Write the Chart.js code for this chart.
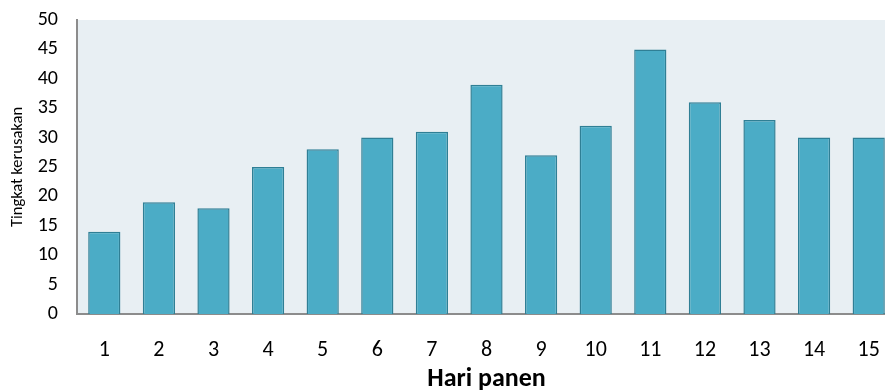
<!DOCTYPE html>
<html lang="id">
<head>
    <meta charset="UTF-8">
    <title>Tingkat kerusakan per hari panen</title>
    <script src="https://cdn.jsdelivr.net/npm/chart.js"></script>
    <style>
        html, body {
            margin: 0;
            padding: 0;
            background: #ffffff;
            overflow: hidden;
        }
        #wrap {
            width: 896px;
            height: 392px;
        }
    </style>
</head>
<body>
    <div id="wrap">
        <canvas id="damageChart" width="896" height="392"></canvas>
    </div>

    <script>
        const days = ['1', '2', '3', '4', '5', '6', '7', '8', '9', '10', '11', '12', '13', '14', '15'];
        const damageLevel = [14, 19, 18, 25, 28, 30, 31, 39, 27, 32, 45, 36, 33, 30, 30];
        const yTicks = [0, 5, 10, 15, 20, 25, 30, 35, 40, 45, 50];

        const fontFamily = "Carlito, 'Open Sans', 'Liberation Sans', sans-serif";

        // fill plot area with the pale blue background
        const plotBackground = {
            id: 'plotBackground',
            beforeDraw(chart) {
                const { ctx, chartArea } = chart;
                ctx.save();
                ctx.fillStyle = '#e8eff3';
                ctx.fillRect(chartArea.left, chartArea.top, chartArea.right - chartArea.left, chartArea.bottom - chartArea.top);
                ctx.restore();
            }
        };

        const ctx = document.getElementById('damageChart').getContext('2d');

        new Chart(ctx, {
            type: 'bar',
            data: {
                labels: days,
                datasets: [{
                    label: 'Tingkat kerusakan',
                    data: damageLevel,
                    backgroundColor: '#4bacc6',
                    borderColor: '#2f7f95',
                    borderWidth: 1.5,
                    borderSkipped: 'bottom',
                    categoryPercentage: 1,
                    barPercentage: 0.59
                }]
            },
            options: {
                responsive: false,
                animation: false,
                layout: {
                    padding: { top: 20, left: 0, right: 0, bottom: 0 }
                },
                plugins: {
                    legend: { display: false },
                    tooltip: { enabled: false }
                },
                scales: {
                    x: {
                        grid: { display: false, drawTicks: false },
                        border: { color: '#8c8c8c', width: 2 },
                        ticks: {
                            color: '#000000',
                            padding: 23,
                            font: { family: fontFamily, size: 22 }
                        },
                        title: {
                            display: true,
                            text: 'Hari panen',
                            color: '#000000',
                            padding: { top: 0, bottom: 0 },
                            font: { family: fontFamily, size: 26, weight: 'bold', lineHeight: 1 }
                        },
                        afterFit(scale) {
                            scale.height = 78;
                            scale.paddingLeft = 0;
                            scale.paddingRight = 0;
                        }
                    },
                    y: {
                        min: 0,
                        max: 50,
                        afterBuildTicks(scale) {
                            scale.ticks = yTicks.map(v => ({ value: v }));
                        },
                        grid: { display: false, drawTicks: false },
                        border: { color: '#8c8c8c', width: 2 },
                        ticks: {
                            color: '#000000',
                            padding: 19,
                            font: { family: fontFamily, size: 20 }
                        },
                        title: {
                            display: true,
                            text: 'Tingkat kerusakan',
                            color: '#000000',
                            padding: { top: 8, bottom: 0 },
                            font: { family: fontFamily, size: 16.5 }
                        },
                        afterFit(scale) {
                            scale.width = 77;
                            // keep the plot top fixed at the layout padding
                            scale.paddingTop = 0;
                            scale.paddingBottom = 0;
                        }
                    }
                }
            },
            plugins: [plotBackground]
        });
    </script>
</body>
</html>
